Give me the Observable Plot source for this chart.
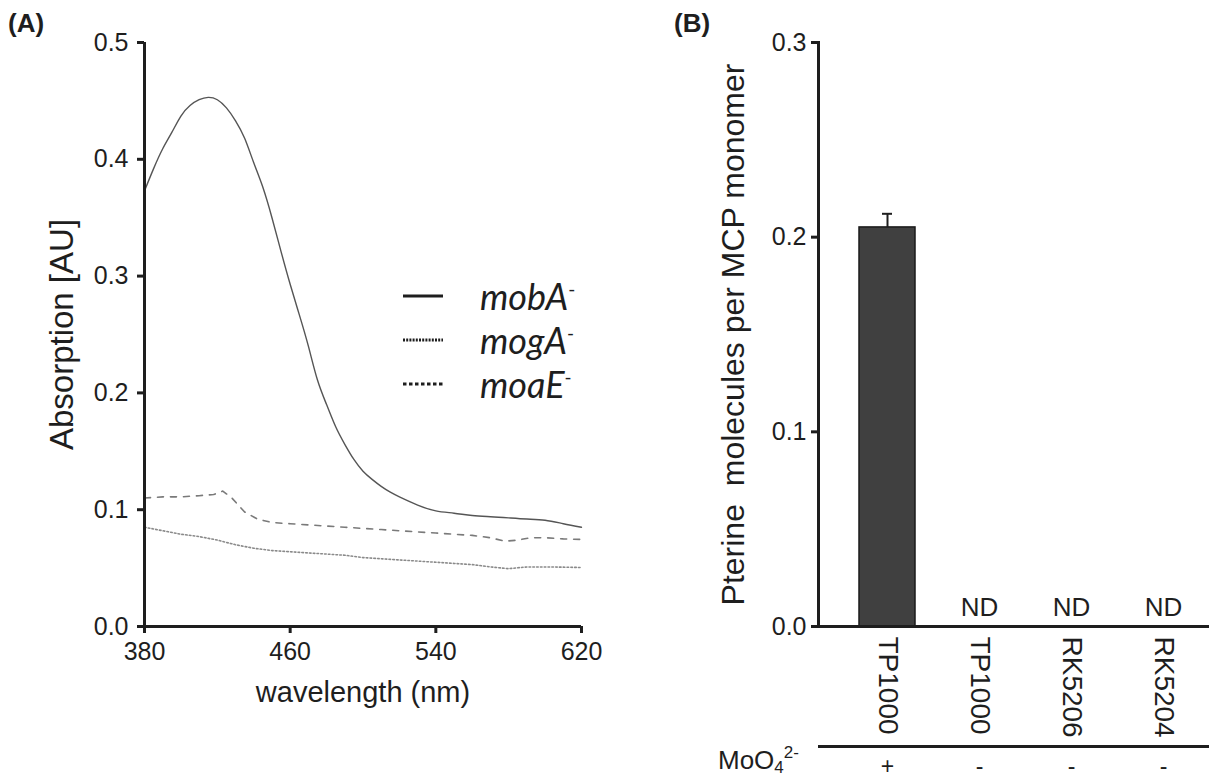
<!DOCTYPE html>
<html>
<head>
<meta charset="utf-8">
<script src="https://cdn.jsdelivr.net/npm/d3@7"></script>
<script src="https://cdn.jsdelivr.net/npm/@observablehq/plot@0.6"></script>
<style>
  html, body { margin: 0; padding: 0; background: #fff; }
  #wrap { position: relative; width: 1209px; height: 778px; overflow: hidden; font-family: "Liberation Sans", Arial, sans-serif; color: #1e1e1e; }
  #panelA { position: absolute; left: 0; top: 0; }
  #panelB { position: absolute; left: 620px; top: 0; }
  .tag { position: absolute; font-weight: bold; font-size: 26px; line-height: 26px; top: 10px; }
  #legend { position: absolute; left: 403px; top: 274px; font-family: Lato, "Open Sans", sans-serif; font-style: italic; font-size: 36px; }
  #legend .row { display: flex; align-items: center; height: 44px; }
  #legend svg { margin-right: 37px; }
  #legend .sup { font-size: 19px; position: relative; top: -14px; font-style: normal; }
  #moo { position: absolute; left: 718px; top: 747px; font-size: 26px; line-height: 26px; }
  #moo .sub { font-size: 17px; position: relative; top: 4px; }
  #moo .sup { font-size: 17px; position: relative; top: -11px; }
</style>
</head>
<body>
<div id="wrap">
  <div id="panelA"></div>
  <div id="panelB"></div>
  <div class="tag" style="left:8px">(A)</div>
  <div class="tag" style="left:674px">(B)</div>
  <div id="legend"></div>
  <div id="moo">MoO<span class="sub">4</span><span class="sup">2-</span></div>
</div>
<script>
// ---------- Panel A data ----------
const mobAWavelength = [380,385,390,395,400,405,410,415,420,425,430,435,440,445,450,455,460,465,470,475,480,485,490,495,500,505,510,515,520,530,540,550,560,570,580,590,600,610,620];
const mobAAbsorption = [0.373,0.392,0.409,0.423,0.437,0.446,0.451,0.453,0.451,0.444,0.433,0.418,0.397,0.376,0.350,0.321,0.293,0.267,0.240,0.211,0.190,0.171,0.156,0.143,0.133,0.126,0.120,0.115,0.111,0.104,0.099,0.097,0.095,0.094,0.093,0.092,0.091,0.088,0.085];

const mogAWavelength = [380,390,400,410,420,430,440,450,460,470,480,490,500,510,520,530,540,550,560,570,580,590,600,610,620];
const mogAAbsorption = [0.085,0.082,0.079,0.077,0.074,0.070,0.067,0.065,0.064,0.063,0.062,0.061,0.059,0.058,0.057,0.056,0.055,0.054,0.053,0.051,0.0495,0.051,0.051,0.0508,0.0505];

const moaEWavelength = [380,390,400,410,418,423,428,435,442,450,460,470,480,490,500,510,520,530,540,550,560,570,578,585,592,600,610,620];
const moaEAbsorption = [0.110,0.111,0.111,0.112,0.113,0.116,0.110,0.098,0.092,0.089,0.088,0.087,0.086,0.085,0.084,0.083,0.082,0.081,0.080,0.079,0.078,0.076,0.073,0.074,0.076,0.076,0.075,0.0745];

const xTicksA = [380, 460, 540, 620];
const yTicksA = [0, 0.1, 0.2, 0.3, 0.4, 0.5];

const seriesNames = ["mobA", "mogA", "moaE"];

// ---------- Panel B data ----------
const strains = ["TP1000", "TP1000", "RK5206", "RK5204"];
const molybdate = ["+", "-", "-", "-"];
const pterin = [0.205, null, null, null];
const pterinErr = [0.007, null, null, null];
const yTicksB = [0, 0.1, 0.2, 0.3];

// ---------- build tables ----------
const toRows = (xs, ys) => xs.map((x, i) => ({x, y: ys[i]}));
const mobA = toRows(mobAWavelength, mobAAbsorption);
const mogA = toRows(mogAWavelength, mogAAbsorption);
const moaE = toRows(moaEWavelength, moaEAbsorption);

const ink = "#1e1e1e";
const fmt1 = d3.format(".1f");

const plotA = Plot.plot({
  width: 620, height: 778,
  marginLeft: 144, marginRight: 39, marginTop: 42, marginBottom: 152,
  style: {fontFamily: '"Liberation Sans", Arial, sans-serif', color: ink, background: "transparent"},
  x: {domain: [380, 620]},
  y: {domain: [0, 0.5]},
  marks: [
    Plot.line(mobA, {x: "x", y: "y", stroke: "#555", strokeWidth: 1.4, curve: "natural"}),
    Plot.line(moaE, {x: "x", y: "y", stroke: "#7a7a7a", strokeWidth: 1.6, strokeDasharray: "6,7"}),
    Plot.line(mogA, {x: "x", y: "y", stroke: "#8a8a8a", strokeWidth: 1.6, strokeDasharray: "1.6,2.2"}),
    Plot.ruleX([380], {y1: 0, y2: 0.5, stroke: ink, strokeWidth: 3}),
    Plot.ruleY([0], {x1: 380, x2: 620, stroke: ink, strokeWidth: 3}),
    Plot.axisY({ticks: yTicksA, tickFormat: fmt1, tickSize: 7, tickPadding: 9, strokeWidth: 3, stroke: ink, fontSize: 25, label: null}),
    Plot.axisX({ticks: xTicksA, tickFormat: d => String(d), tickSize: 7, tickPadding: 9, strokeWidth: 3, stroke: ink, fontSize: 25, label: null}),
    Plot.text(["Absorption [AU]"], {frameAnchor: "left", textAnchor: "middle", rotate: -90, dx: -82, fontSize: 33, fill: ink}),
    Plot.text(["wavelength (nm)"], {frameAnchor: "bottom", textAnchor: "middle", dy: 75, fontSize: 29, fill: ink})
  ]
});
document.getElementById("panelA").appendChild(plotA);

// ---------- Panel B ----------
const idx = strains.map((_, i) => i);
const bars = idx.filter(i => pterin[i] != null).map(i => ({i, v: pterin[i], top: pterin[i] + pterinErr[i]}));
const nd = idx.filter(i => pterin[i] == null).map(i => ({i}));

const plotB = Plot.plot({
  width: 589, height: 778,
  marginLeft: 198, marginRight: 0, marginTop: 42, marginBottom: 152,
  style: {fontFamily: '"Liberation Sans", Arial, sans-serif', color: ink, background: "transparent"},
  x: {type: "band", domain: idx, paddingInner: 0.387, paddingOuter: 0.296, align: 0.7},
  y: {domain: [0, 0.3]},
  marks: [
    Plot.ruleX(bars, {x: "i", y1: "v", y2: "top", stroke: ink, strokeWidth: 2}),
    Plot.tickY(bars, {x: "i", y: "top", stroke: ink, strokeWidth: 2, insetLeft: 23, insetRight: 23}),
    Plot.barY(bars, {x: "i", y: "v", fill: "#404040", stroke: "#1a1a1a", strokeWidth: 1.5}),
    Plot.text(nd, {x: "i", y: 0, text: () => "ND", lineAnchor: "bottom", dy: -11, fontSize: 26, fill: ink}),
    Plot.frame({anchor: "left", stroke: ink, strokeWidth: 3}),
    Plot.frame({anchor: "bottom", stroke: ink, strokeWidth: 3}),
    Plot.axisY({ticks: yTicksB, tickFormat: fmt1, tickSize: 7, tickPadding: 5, strokeWidth: 3, stroke: ink, fontSize: 25, label: null}),
    Plot.axisX({tickFormat: i => strains[i], tickRotate: 90, tickSize: 0, tickPadding: 10, fontSize: 28, label: null}),
    Plot.ruleY([0], {dy: 120, stroke: ink, strokeWidth: 3}),
    Plot.axisX({tickFormat: i => molybdate[i], tickSize: 0, tickPadding: 131, fontSize: 23, label: null}),
    Plot.text(["Pterine  molecules per MCP monomer"], {frameAnchor: "left", textAnchor: "middle", rotate: -90, dx: -85, fontSize: 32, fill: ink})
  ]
});
document.getElementById("panelB").appendChild(plotB);

// ---------- Legend (panel A) ----------
const dashes = [null, "2,1.2", "3.5,2.5"];
const legend = d3.select("#legend");
seriesNames.forEach((name, k) => {
  const row = legend.append("div").attr("class", "row");
  const s = row.append("svg").attr("width", 40).attr("height", 6);
  s.append("line").attr("x1", 0).attr("x2", 40).attr("y1", 3).attr("y2", 3)
    .attr("stroke", ink).attr("stroke-width", k === 0 ? 3 : 3.2)
    .attr("stroke-dasharray", dashes[k]);
  const t = row.append("span");
  t.append("span").text(name);
  t.append("span").attr("class", "sup").text("-");
});
</script>
</body>
</html>
